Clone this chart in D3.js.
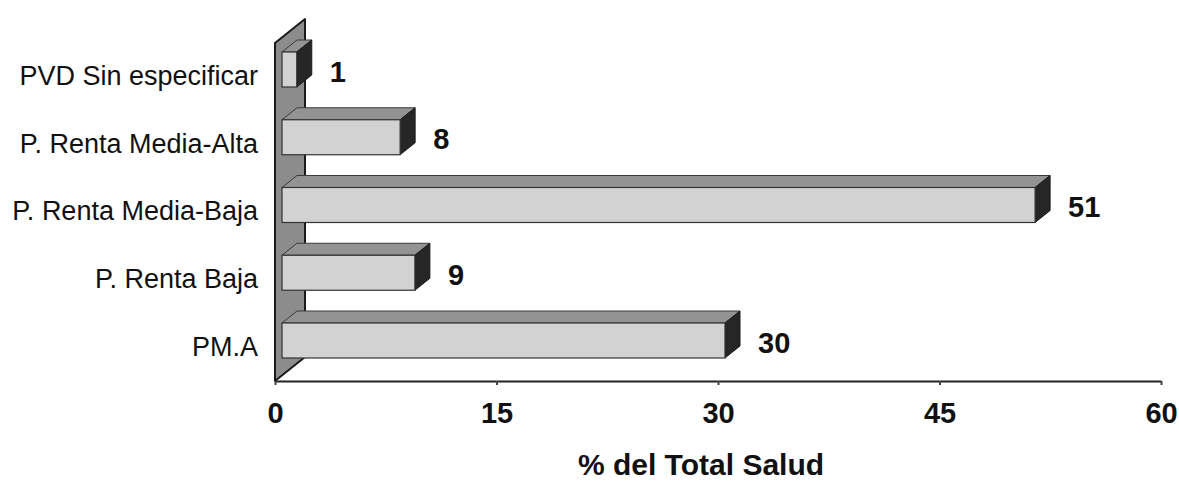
<!DOCTYPE html>
<html>
<head>
<meta charset="utf-8">
<script src="https://cdn.jsdelivr.net/npm/d3@7"></script>
<style>
  html, body { margin: 0; padding: 0; background: #fff; }
  svg { display: block; font-family: "Liberation Sans", Arial, sans-serif; }
</style>
</head>
<body>
<svg id="chart" width="1179" height="482"></svg>
<script>
// Share of total health spending by group
const categories = ["PVD Sin especificar", "P. Renta Media-Alta", "P. Renta Media-Baja", "P. Renta Baja", "PM.A"];
const values = [1, 8, 51, 9, 30];
const xTicks = [0, 15, 30, 45, 60];
const xTitle = "% del Total Salud";

const svg = d3.select("#chart");

// plot frame
const plotLeft = 275, plotRight = 1161, floorY = 381, wallTop = 43;
const wallDepth = { dx: 30, dy: -24 };
const barDepth = { dx: 15, dy: -12 };
const barInset = { dx: 7, dy: -6 };   // bars sit slightly behind the front plane
const barH = 35;

const x = d3.scaleLinear().domain([0, 60]).range([plotLeft, plotRight]);
const y = d3.scalePoint().domain(categories).range([75.5, 346.5]);

// side wall (category axis wall)
svg.append("path")
  .attr("d", d3.line()([
    [plotLeft, wallTop],
    [plotLeft + wallDepth.dx, wallTop + wallDepth.dy],
    [plotLeft + wallDepth.dx, floorY + wallDepth.dy],
    [plotLeft, floorY]
  ]) + "Z")
  .attr("fill", "#8c8c8c")
  .attr("stroke", "#1a1a1a")
  .attr("stroke-width", 2)
  .attr("stroke-linejoin", "round");

// bars
const bars = svg.append("g").selectAll("g").data(categories).join("g");

bars.each(function (c, i) {
  const g = d3.select(this);
  const v = values[i];
  const x0 = x(0) + barInset.dx;
  const x1 = x(v) + barInset.dx;
  const yTop = y(c) + barInset.dy - barH / 2;
  const yBot = yTop + barH;
  const dx = barDepth.dx, dy = barDepth.dy;

  // top face
  g.append("path")
    .attr("d", d3.line()([[x0, yTop], [x0 + dx, yTop + dy], [x1 + dx, yTop + dy], [x1, yTop]]) + "Z")
    .attr("fill", "#939393").attr("stroke", "#3a3a3a").attr("stroke-width", 1);
  // end face
  g.append("path")
    .attr("d", d3.line()([[x1, yTop], [x1 + dx, yTop + dy], [x1 + dx, yBot + dy], [x1, yBot]]) + "Z")
    .attr("fill", "#262626").attr("stroke", "#1a1a1a").attr("stroke-width", 1);
  // front face
  g.append("rect")
    .attr("x", x0).attr("y", yTop)
    .attr("width", x1 - x0).attr("height", barH)
    .attr("fill", "#d2d2d2").attr("stroke", "#333").attr("stroke-width", 1.2);

  // value label
  g.append("text")
    .attr("x", x1 + 33)
    .attr("y", y(c) - 4)
    .attr("dy", "0.35em")
    .attr("font-size", 29)
    .attr("font-weight", "bold")
    .attr("fill", "#111")
    .text(v);
});

// category labels
svg.append("g").selectAll("text").data(categories).join("text")
  .attr("x", 258)
  .attr("y", d => y(d))
  .attr("dy", "0.35em")
  .attr("text-anchor", "end")
  .attr("font-size", 27)
  .attr("fill", "#111")
  .text(d => d);

// value axis along the floor edge
const axis = svg.append("g")
  .attr("transform", `translate(0,${floorY})`)
  .call(d3.axisBottom(x).tickValues(xTicks).tickSize(4).tickSizeOuter(0).tickPadding(17));
axis.select(".domain").attr("stroke", "#222").attr("stroke-width", 2);
axis.selectAll(".tick line").attr("stroke", "#444").attr("stroke-width", 2);
axis.selectAll(".tick text")
  .attr("font-family", "Liberation Sans, Arial, sans-serif")
  .attr("font-size", 29)
  .attr("font-weight", "bold")
  .attr("fill", "#111");

// axis title
svg.append("text")
  .attr("x", 701)
  .attr("y", 475)
  .attr("text-anchor", "middle")
  .attr("font-size", 30)
  .attr("font-weight", "bold")
  .attr("fill", "#111")
  .text(xTitle);
</script>
</body>
</html>
